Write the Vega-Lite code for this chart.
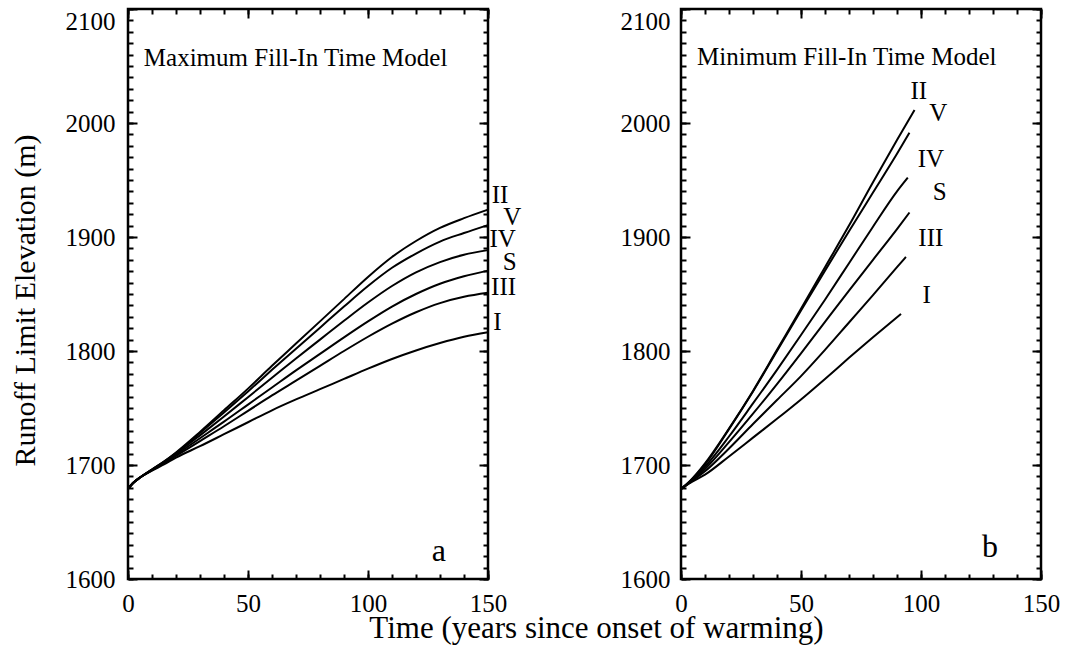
{
  "$schema": "https://vega.github.io/schema/vega-lite/v6.json",
  "padding": {"left": 8, "top": 6, "right": 5, "bottom": 2},
  "background": "white",
  "spacing": 193,
  "bounds": "flush",
  "config": {
    "view": {"stroke": "black", "strokeWidth": 2.5},
    "axis": {"labelFont": "Liberation Serif", "titleFont": "Liberation Serif", "labelColor": "black", "titleColor": "black", "titleFontWeight": "normal", "grid": false},
    "text": {"font": "Liberation Serif", "color": "black"}
  },
  "datasets": {
    "curves": [
      {"panel": "a", "curve": "I", "t": 0, "v": 1679}, {"panel": "a", "curve": "I", "t": 2, "v": 1684}, {"panel": "a", "curve": "I", "t": 5, "v": 1689}, {"panel": "a", "curve": "I", "t": 10, "v": 1695}, {"panel": "a", "curve": "I", "t": 15, "v": 1700.5}, {"panel": "a", "curve": "I", "t": 20, "v": 1706.5}, {"panel": "a", "curve": "I", "t": 30, "v": 1716.5}, {"panel": "a", "curve": "I", "t": 40, "v": 1727}, {"panel": "a", "curve": "I", "t": 50, "v": 1737.5}, {"panel": "a", "curve": "I", "t": 60, "v": 1748}, {"panel": "a", "curve": "I", "t": 70, "v": 1757.5}, {"panel": "a", "curve": "I", "t": 80, "v": 1766.5}, {"panel": "a", "curve": "I", "t": 90, "v": 1775.5}, {"panel": "a", "curve": "I", "t": 100, "v": 1784.5}, {"panel": "a", "curve": "I", "t": 110, "v": 1793}, {"panel": "a", "curve": "I", "t": 120, "v": 1800.5}, {"panel": "a", "curve": "I", "t": 130, "v": 1807}, {"panel": "a", "curve": "I", "t": 140, "v": 1812.5}, {"panel": "a", "curve": "I", "t": 150, "v": 1816.5},
      {"panel": "a", "curve": "III", "t": 0, "v": 1679}, {"panel": "a", "curve": "III", "t": 2, "v": 1684}, {"panel": "a", "curve": "III", "t": 5, "v": 1689}, {"panel": "a", "curve": "III", "t": 10, "v": 1695.5}, {"panel": "a", "curve": "III", "t": 15, "v": 1701.5}, {"panel": "a", "curve": "III", "t": 20, "v": 1708}, {"panel": "a", "curve": "III", "t": 30, "v": 1721}, {"panel": "a", "curve": "III", "t": 40, "v": 1734}, {"panel": "a", "curve": "III", "t": 50, "v": 1747.5}, {"panel": "a", "curve": "III", "t": 60, "v": 1761}, {"panel": "a", "curve": "III", "t": 70, "v": 1774}, {"panel": "a", "curve": "III", "t": 80, "v": 1787}, {"panel": "a", "curve": "III", "t": 90, "v": 1800}, {"panel": "a", "curve": "III", "t": 100, "v": 1812.5}, {"panel": "a", "curve": "III", "t": 110, "v": 1824}, {"panel": "a", "curve": "III", "t": 120, "v": 1834}, {"panel": "a", "curve": "III", "t": 130, "v": 1842}, {"panel": "a", "curve": "III", "t": 140, "v": 1847.5}, {"panel": "a", "curve": "III", "t": 150, "v": 1851},
      {"panel": "a", "curve": "S", "t": 0, "v": 1679}, {"panel": "a", "curve": "S", "t": 2, "v": 1684}, {"panel": "a", "curve": "S", "t": 5, "v": 1689}, {"panel": "a", "curve": "S", "t": 10, "v": 1695.5}, {"panel": "a", "curve": "S", "t": 15, "v": 1702}, {"panel": "a", "curve": "S", "t": 20, "v": 1709}, {"panel": "a", "curve": "S", "t": 30, "v": 1723.5}, {"panel": "a", "curve": "S", "t": 40, "v": 1738}, {"panel": "a", "curve": "S", "t": 50, "v": 1753}, {"panel": "a", "curve": "S", "t": 60, "v": 1768}, {"panel": "a", "curve": "S", "t": 70, "v": 1783}, {"panel": "a", "curve": "S", "t": 80, "v": 1797.5}, {"panel": "a", "curve": "S", "t": 90, "v": 1812}, {"panel": "a", "curve": "S", "t": 100, "v": 1826}, {"panel": "a", "curve": "S", "t": 110, "v": 1839}, {"panel": "a", "curve": "S", "t": 120, "v": 1850}, {"panel": "a", "curve": "S", "t": 130, "v": 1859}, {"panel": "a", "curve": "S", "t": 140, "v": 1865.5}, {"panel": "a", "curve": "S", "t": 150, "v": 1870.5},
      {"panel": "a", "curve": "IV", "t": 0, "v": 1679}, {"panel": "a", "curve": "IV", "t": 2, "v": 1684}, {"panel": "a", "curve": "IV", "t": 5, "v": 1689}, {"panel": "a", "curve": "IV", "t": 10, "v": 1696}, {"panel": "a", "curve": "IV", "t": 15, "v": 1702.5}, {"panel": "a", "curve": "IV", "t": 20, "v": 1710}, {"panel": "a", "curve": "IV", "t": 30, "v": 1726}, {"panel": "a", "curve": "IV", "t": 40, "v": 1742.5}, {"panel": "a", "curve": "IV", "t": 50, "v": 1759.5}, {"panel": "a", "curve": "IV", "t": 60, "v": 1776.5}, {"panel": "a", "curve": "IV", "t": 70, "v": 1793.5}, {"panel": "a", "curve": "IV", "t": 80, "v": 1810}, {"panel": "a", "curve": "IV", "t": 90, "v": 1826.5}, {"panel": "a", "curve": "IV", "t": 100, "v": 1842.5}, {"panel": "a", "curve": "IV", "t": 110, "v": 1857}, {"panel": "a", "curve": "IV", "t": 120, "v": 1869}, {"panel": "a", "curve": "IV", "t": 130, "v": 1878}, {"panel": "a", "curve": "IV", "t": 140, "v": 1884.5}, {"panel": "a", "curve": "IV", "t": 150, "v": 1888.5},
      {"panel": "a", "curve": "V", "t": 0, "v": 1679}, {"panel": "a", "curve": "V", "t": 2, "v": 1684}, {"panel": "a", "curve": "V", "t": 5, "v": 1689}, {"panel": "a", "curve": "V", "t": 10, "v": 1696}, {"panel": "a", "curve": "V", "t": 15, "v": 1703}, {"panel": "a", "curve": "V", "t": 20, "v": 1710.5}, {"panel": "a", "curve": "V", "t": 30, "v": 1728}, {"panel": "a", "curve": "V", "t": 40, "v": 1746}, {"panel": "a", "curve": "V", "t": 50, "v": 1764.5}, {"panel": "a", "curve": "V", "t": 60, "v": 1783.5}, {"panel": "a", "curve": "V", "t": 70, "v": 1802}, {"panel": "a", "curve": "V", "t": 80, "v": 1820.5}, {"panel": "a", "curve": "V", "t": 90, "v": 1839}, {"panel": "a", "curve": "V", "t": 100, "v": 1857}, {"panel": "a", "curve": "V", "t": 110, "v": 1873}, {"panel": "a", "curve": "V", "t": 120, "v": 1885.5}, {"panel": "a", "curve": "V", "t": 130, "v": 1896}, {"panel": "a", "curve": "V", "t": 140, "v": 1903.5}, {"panel": "a", "curve": "V", "t": 150, "v": 1910.5},
      {"panel": "a", "curve": "II", "t": 0, "v": 1679}, {"panel": "a", "curve": "II", "t": 2, "v": 1684}, {"panel": "a", "curve": "II", "t": 5, "v": 1689}, {"panel": "a", "curve": "II", "t": 10, "v": 1696}, {"panel": "a", "curve": "II", "t": 15, "v": 1703}, {"panel": "a", "curve": "II", "t": 20, "v": 1711}, {"panel": "a", "curve": "II", "t": 30, "v": 1729}, {"panel": "a", "curve": "II", "t": 40, "v": 1748}, {"panel": "a", "curve": "II", "t": 50, "v": 1767}, {"panel": "a", "curve": "II", "t": 60, "v": 1787}, {"panel": "a", "curve": "II", "t": 70, "v": 1806.5}, {"panel": "a", "curve": "II", "t": 80, "v": 1826}, {"panel": "a", "curve": "II", "t": 90, "v": 1845.5}, {"panel": "a", "curve": "II", "t": 100, "v": 1865}, {"panel": "a", "curve": "II", "t": 110, "v": 1882.5}, {"panel": "a", "curve": "II", "t": 120, "v": 1896.5}, {"panel": "a", "curve": "II", "t": 130, "v": 1908}, {"panel": "a", "curve": "II", "t": 140, "v": 1916.5}, {"panel": "a", "curve": "II", "t": 150, "v": 1924},
      {"panel": "b", "curve": "I", "t": 0, "v": 1679}, {"panel": "b", "curve": "I", "t": 4, "v": 1684.5}, {"panel": "b", "curve": "I", "t": 10, "v": 1691.5}, {"panel": "b", "curve": "I", "t": 20, "v": 1707.5}, {"panel": "b", "curve": "I", "t": 30, "v": 1724}, {"panel": "b", "curve": "I", "t": 40, "v": 1740.5}, {"panel": "b", "curve": "I", "t": 50, "v": 1757.5}, {"panel": "b", "curve": "I", "t": 60, "v": 1775.5}, {"panel": "b", "curve": "I", "t": 70, "v": 1794}, {"panel": "b", "curve": "I", "t": 80, "v": 1812}, {"panel": "b", "curve": "I", "t": 91.7, "v": 1832.5},
      {"panel": "b", "curve": "III", "t": 0, "v": 1679}, {"panel": "b", "curve": "III", "t": 4, "v": 1685}, {"panel": "b", "curve": "III", "t": 10, "v": 1694.5}, {"panel": "b", "curve": "III", "t": 20, "v": 1714.5}, {"panel": "b", "curve": "III", "t": 30, "v": 1736}, {"panel": "b", "curve": "III", "t": 40, "v": 1757}, {"panel": "b", "curve": "III", "t": 50, "v": 1778}, {"panel": "b", "curve": "III", "t": 60, "v": 1801}, {"panel": "b", "curve": "III", "t": 70, "v": 1825}, {"panel": "b", "curve": "III", "t": 80, "v": 1849}, {"panel": "b", "curve": "III", "t": 90, "v": 1873.5}, {"panel": "b", "curve": "III", "t": 93.7, "v": 1882.5},
      {"panel": "b", "curve": "S", "t": 0, "v": 1679}, {"panel": "b", "curve": "S", "t": 4, "v": 1685.5}, {"panel": "b", "curve": "S", "t": 10, "v": 1696.5}, {"panel": "b", "curve": "S", "t": 20, "v": 1720}, {"panel": "b", "curve": "S", "t": 30, "v": 1745}, {"panel": "b", "curve": "S", "t": 40, "v": 1771}, {"panel": "b", "curve": "S", "t": 50, "v": 1798}, {"panel": "b", "curve": "S", "t": 60, "v": 1825.5}, {"panel": "b", "curve": "S", "t": 70, "v": 1853}, {"panel": "b", "curve": "S", "t": 80, "v": 1880}, {"panel": "b", "curve": "S", "t": 90, "v": 1907}, {"panel": "b", "curve": "S", "t": 95.2, "v": 1921.5},
      {"panel": "b", "curve": "IV", "t": 0, "v": 1679}, {"panel": "b", "curve": "IV", "t": 4, "v": 1686}, {"panel": "b", "curve": "IV", "t": 10, "v": 1698.5}, {"panel": "b", "curve": "IV", "t": 20, "v": 1725}, {"panel": "b", "curve": "IV", "t": 30, "v": 1754}, {"panel": "b", "curve": "IV", "t": 40, "v": 1783.5}, {"panel": "b", "curve": "IV", "t": 50, "v": 1814}, {"panel": "b", "curve": "IV", "t": 60, "v": 1845}, {"panel": "b", "curve": "IV", "t": 70, "v": 1877}, {"panel": "b", "curve": "IV", "t": 80, "v": 1909}, {"panel": "b", "curve": "IV", "t": 90, "v": 1940}, {"panel": "b", "curve": "IV", "t": 94.5, "v": 1952},
      {"panel": "b", "curve": "V", "t": 0, "v": 1679}, {"panel": "b", "curve": "V", "t": 4, "v": 1686.5}, {"panel": "b", "curve": "V", "t": 10, "v": 1700.5}, {"panel": "b", "curve": "V", "t": 20, "v": 1731.5}, {"panel": "b", "curve": "V", "t": 30, "v": 1764.5}, {"panel": "b", "curve": "V", "t": 40, "v": 1800}, {"panel": "b", "curve": "V", "t": 50, "v": 1835.5}, {"panel": "b", "curve": "V", "t": 60, "v": 1870.5}, {"panel": "b", "curve": "V", "t": 70, "v": 1905}, {"panel": "b", "curve": "V", "t": 80, "v": 1939}, {"panel": "b", "curve": "V", "t": 90, "v": 1973}, {"panel": "b", "curve": "V", "t": 95.2, "v": 1991.5},
      {"panel": "b", "curve": "II", "t": 0, "v": 1679}, {"panel": "b", "curve": "II", "t": 4, "v": 1686.5}, {"panel": "b", "curve": "II", "t": 10, "v": 1701.5}, {"panel": "b", "curve": "II", "t": 20, "v": 1732}, {"panel": "b", "curve": "II", "t": 30, "v": 1765}, {"panel": "b", "curve": "II", "t": 40, "v": 1801}, {"panel": "b", "curve": "II", "t": 50, "v": 1837}, {"panel": "b", "curve": "II", "t": 60, "v": 1873.5}, {"panel": "b", "curve": "II", "t": 70, "v": 1910}, {"panel": "b", "curve": "II", "t": 80, "v": 1948}, {"panel": "b", "curve": "II", "t": 90, "v": 1985}, {"panel": "b", "curve": "II", "t": 97.3, "v": 2011.5}
    ],
    "labels": [
      {"panel": "a", "text": "II", "t": 155, "v": 1936.7}, {"panel": "a", "text": "V", "t": 160.1, "v": 1917.5}, {"panel": "a", "text": "IV", "t": 156.1, "v": 1898.4}, {"panel": "a", "text": "S", "t": 159, "v": 1877.8}, {"panel": "a", "text": "III", "t": 156.5, "v": 1855.8}, {"panel": "a", "text": "I", "t": 153.9, "v": 1825.3},
      {"panel": "b", "text": "II", "t": 99.1, "v": 2028.1}, {"panel": "b", "text": "V", "t": 107.2, "v": 2008.4}, {"panel": "b", "text": "IV", "t": 104.1, "v": 1968.8}, {"panel": "b", "text": "S", "t": 107.8, "v": 1939.4}, {"panel": "b", "text": "III", "t": 104.1, "v": 1899.1}, {"panel": "b", "text": "I", "t": 102.4, "v": 1849.5}
    ],
    "titles": [
      {"panel": "a", "text": "Maximum Fill-In Time Model", "t": 6.6, "v": 2049.6},
      {"panel": "b", "text": "Minimum Fill-In Time Model", "t": 6.7, "v": 2050.6}
    ],
    "letters": [
      {"panel": "a", "text": "a", "t": 129.5, "v": 1616},
      {"panel": "b", "text": "b", "t": 128.8, "v": 1619}
    ]
  },
  "hconcat": [
    {
      "width": 360, "height": 570,
      "resolve": {"axis": {"x": "independent", "y": "independent"}},
      "layer": [
        {
          "data": {"name": "curves"},
          "transform": [{"filter": "datum.panel === 'a'"}],
          "mark": {"type": "line", "color": "black", "strokeWidth": 2, "interpolate": "monotone"},
          "encoding": {
            "x": {"field": "t", "type": "quantitative", "scale": {"domain": [0, 150], "nice": false, "zero": false},
              "axis": {"orient": "bottom", "values": [0, 50, 100, 150], "ticks": true, "tickSize": 9, "offset": -9, "tickColor": "black", "tickWidth": 2,
                "domain": false, "labelPadding": 12, "labelFontSize": 25, "labelFlush": false, "format": "d",
                "title": "Time (years since onset of warming)", "titleFontSize": 31, "titleX": 468, "titleY": 67, "titleBaseline": "alphabetic", "titleAlign": "center", "titleAnchor": null}},
            "y": {"field": "v", "type": "quantitative", "scale": {"domain": [1600, 2100], "nice": false, "zero": false},
              "axis": {"orient": "left", "values": [1600, 1700, 1800, 1900, 2000, 2100], "ticks": true, "tickSize": 9, "offset": -9, "tickColor": "black", "tickWidth": 2,
                "domain": false, "labelPadding": 13, "labelFontSize": 25, "labelFlush": false, "format": "d",
                "labelBaseline": {"condition": {"test": "datum.value === 2100", "value": "top"}, "value": "middle"},
                "title": "Runoff Limit Elevation (m)", "titleFontSize": 30, "titleX": -103, "titleY": 291, "titleBaseline": "alphabetic", "titleAlign": "center", "titleAngle": -90}},
            "detail": {"field": "curve"}
          }
        },
        {
          "data": {"name": "labels"},
          "transform": [{"filter": "datum.panel === 'a'"}],
          "mark": {"type": "text", "fontSize": 25, "align": "center", "baseline": "middle"},
          "encoding": {
            "x": {"field": "t", "type": "quantitative", "scale": {"domain": [0, 150], "nice": false, "zero": false},
              "axis": {"orient": "top", "values": [0,10,20,30,40,50,60,70,80,90,100,110,120,130,140,150], "labels": false, "domain": false, "title": null, "ticks": true, "tickSize": 5, "offset": -5, "tickColor": "black", "tickWidth": 2}},
            "y": {"field": "v", "type": "quantitative", "scale": {"domain": [1600, 2100], "nice": false, "zero": false},
              "axis": {"orient": "right", "values": [1600,1610,1620,1630,1640,1650,1660,1670,1680,1690,1700,1710,1720,1730,1740,1750,1760,1770,1780,1790,1800,1810,1820,1830,1840,1850,1860,1870,1880,1890,1900,1910,1920,1930,1940,1950,1960,1970,1980,1990,2000,2010,2020,2030,2040,2050,2060,2070,2080,2090,2100], "labels": false, "domain": false, "title": null, "ticks": true, "tickSize": 5, "offset": -5, "tickColor": "black", "tickWidth": 2}},
            "text": {"field": "text"}
          }
        },
        {
          "data": {"name": "titles"},
          "transform": [{"filter": "datum.panel === 'a'"}],
          "mark": {"type": "text", "fontSize": 25, "align": "left", "baseline": "alphabetic"},
          "encoding": {
            "x": {"field": "t", "type": "quantitative", "scale": {"domain": [0, 150], "nice": false, "zero": false},
              "axis": {"orient": "bottom", "values": [0,10,20,30,40,50,60,70,80,90,100,110,120,130,140,150], "labels": false, "domain": false, "title": null, "ticks": true, "tickSize": 5, "offset": -5, "tickColor": "black", "tickWidth": 2}},
            "y": {"field": "v", "type": "quantitative", "scale": {"domain": [1600, 2100], "nice": false, "zero": false},
              "axis": {"orient": "left", "values": [1600,1610,1620,1630,1640,1650,1660,1670,1680,1690,1700,1710,1720,1730,1740,1750,1760,1770,1780,1790,1800,1810,1820,1830,1840,1850,1860,1870,1880,1890,1900,1910,1920,1930,1940,1950,1960,1970,1980,1990,2000,2010,2020,2030,2040,2050,2060,2070,2080,2090,2100], "labels": false, "domain": false, "title": null, "ticks": true, "tickSize": 5, "offset": -5, "tickColor": "black", "tickWidth": 2}},
            "text": {"field": "text"}
          }
        },
        {
          "data": {"name": "letters"},
          "transform": [{"filter": "datum.panel === 'a'"}],
          "mark": {"type": "text", "fontSize": 32, "align": "center", "baseline": "alphabetic"},
          "encoding": {
            "x": {"field": "t", "type": "quantitative", "scale": {"domain": [0, 150], "nice": false, "zero": false},
              "axis": {"orient": "top", "values": [0, 50, 100, 150], "labels": false, "domain": false, "title": null, "ticks": true, "tickSize": 9, "offset": -9, "tickColor": "black", "tickWidth": 2}},
            "y": {"field": "v", "type": "quantitative", "scale": {"domain": [1600, 2100], "nice": false, "zero": false},
              "axis": {"orient": "right", "values": [1600, 1700, 1800, 1900, 2000, 2100], "labels": false, "domain": false, "title": null, "ticks": true, "tickSize": 9, "offset": -9, "tickColor": "black", "tickWidth": 2}},
            "text": {"field": "text"}
          }
        }
      ]
    },
    {
      "width": 360, "height": 570,
      "resolve": {"axis": {"x": "independent", "y": "independent"}},
      "layer": [
        {
          "data": {"name": "curves"},
          "transform": [{"filter": "datum.panel === 'b'"}],
          "mark": {"type": "line", "color": "black", "strokeWidth": 2, "interpolate": "monotone"},
          "encoding": {
            "x": {"field": "t", "type": "quantitative", "scale": {"domain": [0, 150], "nice": false, "zero": false},
              "axis": {"orient": "bottom", "values": [0, 50, 100, 150], "ticks": true, "tickSize": 9, "offset": -9, "tickColor": "black", "tickWidth": 2,
                "domain": false, "labelPadding": 12, "labelFontSize": 25, "labelFlush": false, "format": "d", "title": null}},
            "y": {"field": "v", "type": "quantitative", "scale": {"domain": [1600, 2100], "nice": false, "zero": false},
              "axis": {"orient": "left", "values": [1600, 1700, 1800, 1900, 2000, 2100], "ticks": true, "tickSize": 9, "offset": -9, "tickColor": "black", "tickWidth": 2,
                "domain": false, "labelPadding": 11, "labelFontSize": 25, "labelFlush": false, "format": "d",
                "labelBaseline": {"condition": {"test": "datum.value === 2100", "value": "top"}, "value": "middle"},
                "title": null}},
            "detail": {"field": "curve"}
          }
        },
        {
          "data": {"name": "labels"},
          "transform": [{"filter": "datum.panel === 'b'"}],
          "mark": {"type": "text", "fontSize": 25, "align": "center", "baseline": "middle"},
          "encoding": {
            "x": {"field": "t", "type": "quantitative", "scale": {"domain": [0, 150], "nice": false, "zero": false},
              "axis": {"orient": "top", "values": [0,10,20,30,40,50,60,70,80,90,100,110,120,130,140,150], "labels": false, "domain": false, "title": null, "ticks": true, "tickSize": 5, "offset": -5, "tickColor": "black", "tickWidth": 2}},
            "y": {"field": "v", "type": "quantitative", "scale": {"domain": [1600, 2100], "nice": false, "zero": false},
              "axis": {"orient": "right", "values": [1600,1610,1620,1630,1640,1650,1660,1670,1680,1690,1700,1710,1720,1730,1740,1750,1760,1770,1780,1790,1800,1810,1820,1830,1840,1850,1860,1870,1880,1890,1900,1910,1920,1930,1940,1950,1960,1970,1980,1990,2000,2010,2020,2030,2040,2050,2060,2070,2080,2090,2100], "labels": false, "domain": false, "title": null, "ticks": true, "tickSize": 5, "offset": -5, "tickColor": "black", "tickWidth": 2}},
            "text": {"field": "text"}
          }
        },
        {
          "data": {"name": "titles"},
          "transform": [{"filter": "datum.panel === 'b'"}],
          "mark": {"type": "text", "fontSize": 25, "align": "left", "baseline": "alphabetic"},
          "encoding": {
            "x": {"field": "t", "type": "quantitative", "scale": {"domain": [0, 150], "nice": false, "zero": false},
              "axis": {"orient": "bottom", "values": [0,10,20,30,40,50,60,70,80,90,100,110,120,130,140,150], "labels": false, "domain": false, "title": null, "ticks": true, "tickSize": 5, "offset": -5, "tickColor": "black", "tickWidth": 2}},
            "y": {"field": "v", "type": "quantitative", "scale": {"domain": [1600, 2100], "nice": false, "zero": false},
              "axis": {"orient": "left", "values": [1600,1610,1620,1630,1640,1650,1660,1670,1680,1690,1700,1710,1720,1730,1740,1750,1760,1770,1780,1790,1800,1810,1820,1830,1840,1850,1860,1870,1880,1890,1900,1910,1920,1930,1940,1950,1960,1970,1980,1990,2000,2010,2020,2030,2040,2050,2060,2070,2080,2090,2100], "labels": false, "domain": false, "title": null, "ticks": true, "tickSize": 5, "offset": -5, "tickColor": "black", "tickWidth": 2}},
            "text": {"field": "text"}
          }
        },
        {
          "data": {"name": "letters"},
          "transform": [{"filter": "datum.panel === 'b'"}],
          "mark": {"type": "text", "fontSize": 32, "align": "center", "baseline": "alphabetic"},
          "encoding": {
            "x": {"field": "t", "type": "quantitative", "scale": {"domain": [0, 150], "nice": false, "zero": false},
              "axis": {"orient": "top", "values": [0, 50, 100, 150], "labels": false, "domain": false, "title": null, "ticks": true, "tickSize": 9, "offset": -9, "tickColor": "black", "tickWidth": 2}},
            "y": {"field": "v", "type": "quantitative", "scale": {"domain": [1600, 2100], "nice": false, "zero": false},
              "axis": {"orient": "right", "values": [1600, 1700, 1800, 1900, 2000, 2100], "labels": false, "domain": false, "title": null, "ticks": true, "tickSize": 9, "offset": -9, "tickColor": "black", "tickWidth": 2}},
            "text": {"field": "text"}
          }
        }
      ]
    }
  ]
}
